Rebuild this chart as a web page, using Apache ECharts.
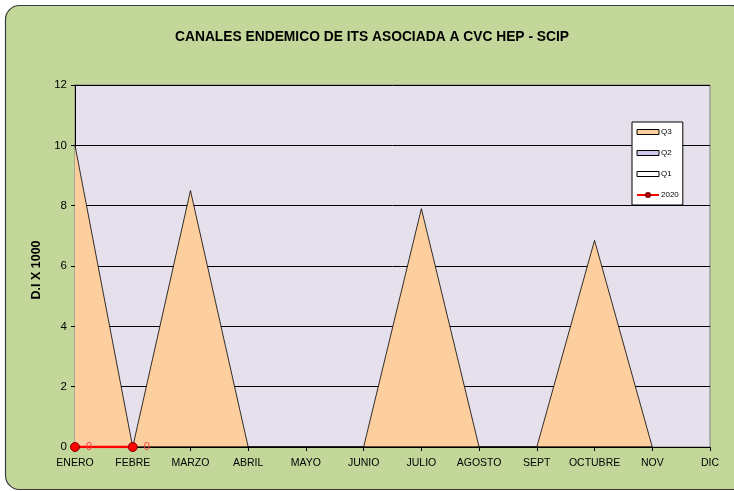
<!DOCTYPE html>
<html>
<head>
<meta charset="utf-8">
<script src="https://cdn.jsdelivr.net/npm/echarts@6/dist/echarts.min.js"></script>
<style>
  html, body { margin: 0; padding: 0; background: #ffffff; }
  #chart { width: 734px; height: 491px; }
</style>
</head>
<body>
<div id="chart"></div>
<script>
// Months on the category axis
const months = ['ENERO', 'FEBRE', 'MARZO', 'ABRIL', 'MAYO', 'JUNIO', 'JULIO', 'AGOSTO', 'SEPT', 'OCTUBRE', 'NOV', 'DIC'];
// Endemic channel quartiles (rate per 1000)
const q3 = [10, 0, 8.5, 0, 0, 0, 7.9, 0, 0, 6.85, 0, null];
const q2 = [0, 0, 0, 0, 0, 0, 0, 0, 0, 0, 0, null];
const q1 = [0, 0, 0, 0, 0, 0, 0, 0, 0, 0, 0, null];
// Cases reported in 2020
const y2020 = [0, 0, null, null, null, null, null, null, null, null, null, null];
// Y axis ticks
const yTicks = [0, 2, 4, 6, 8, 10, 12];

const font = "'Liberation Sans', Arial, sans-serif";

const chart = echarts.init(document.getElementById('chart'));

chart.setOption({
  animation: false,
  backgroundColor: '#ffffff',
  graphic: [{
    type: 'rect',
    z: -10,
    silent: true,
    shape: { x: 5.5, y: 5.5, width: 740, height: 484, r: 14 },
    style: { fill: '#c4d79b', stroke: '#3a3a3a', lineWidth: 1.2 }
  }],
  title: {
    text: 'CANALES ENDEMICO DE ITS ASOCIADA A CVC HEP - SCIP',
    left: 170,
    top: 25,
    textStyle: { fontFamily: font, fontWeight: 'bold', fontSize: 13.8, color: '#000' }
  },
  legend: {
    orient: 'vertical',
    left: 632,
    top: 122,
    padding: [6, 4, 6, 4],
    itemWidth: 22,
    itemHeight: 5,
    itemGap: 13,
    backgroundColor: '#ffffff',
    borderColor: '#000000',
    borderWidth: 1,
    textStyle: { fontFamily: font, fontSize: 8, color: '#000', padding: [0, 0, 0, -3] },
    data: [
      { name: 'Q3', icon: 'rect', itemStyle: { color: '#fdcf9f', borderColor: '#000', borderWidth: 1 } },
      { name: 'Q2', icon: 'rect', itemStyle: { color: '#ccc8ee', borderColor: '#000', borderWidth: 1 } },
      { name: 'Q1', icon: 'rect', itemStyle: { color: '#ffffff', borderColor: '#000', borderWidth: 1 } },
      { name: '2020' }
    ]
  },
  grid: { left: 75, right: 24, top: 85, bottom: 44, show: true, backgroundColor: '#e6e0ec', borderColor: '#808080', borderWidth: 1 },
  xAxis: {
    type: 'category',
    data: months,
    boundaryGap: false,
    axisLine: { lineStyle: { color: '#000', width: 1.2 } },
    axisTick: { show: true, alignWithLabel: true, length: 4, lineStyle: { color: '#000' } },
    axisLabel: { fontFamily: font, fontSize: 10.5, color: '#000', margin: 11, interval: 0 },
    splitLine: { show: false }
  },
  yAxis: {
    type: 'value',
    min: yTicks[0],
    max: yTicks[yTicks.length - 1],
    interval: 2,
    name: 'D.I X 1000',
    nameLocation: 'middle',
    nameGap: 32,
    nameTextStyle: { fontFamily: font, fontWeight: 'bold', fontSize: 12.5, color: '#000', padding: [0, 0, 0, -8] },
    axisLine: { show: true, lineStyle: { color: '#000', width: 1 } },
    axisTick: { show: true, inside: false, length: 4, lineStyle: { color: '#000' } },
    axisLabel: { fontFamily: font, fontSize: 11.5, color: '#000', margin: 8 },
    splitLine: { show: true, lineStyle: { color: '#000', width: 1 } }
  },
  series: [
    {
      name: 'Q3', type: 'line', data: q3,
      symbol: 'none',
      itemStyle: { color: '#fdcf9f', borderColor: '#000' },
      lineStyle: { color: '#000', width: 0.8 },
      areaStyle: { color: '#fdcf9f', opacity: 1 },
      z: 2
    },
    {
      name: 'Q2', type: 'line', data: q2,
      symbol: 'none',
      itemStyle: { color: '#ccc8ee', borderColor: '#000' },
      lineStyle: { color: '#000', width: 0.8 },
      areaStyle: { color: '#ccc8ee', opacity: 1 },
      z: 3
    },
    {
      name: 'Q1', type: 'line', data: q1,
      symbol: 'none',
      itemStyle: { color: '#ffffff', borderColor: '#000' },
      lineStyle: { color: '#000', width: 0.8 },
      areaStyle: { color: '#ffffff', opacity: 1 },
      z: 4
    },
    {
      name: '2020', type: 'line', data: y2020,
      symbol: 'circle', symbolSize: 9,
      connectNulls: false,
      itemStyle: { color: '#ff0000', borderColor: '#800000', borderWidth: 1 },
      lineStyle: { color: '#ff0000', width: 2.5 },
      label: {
        show: true,
        position: 'right',
        distance: 6,
        fontFamily: font,
        fontSize: 11,
        color: '#ff3c3c'
      },
      z: 6
    }
  ]
});
</script>
</body>
</html>
